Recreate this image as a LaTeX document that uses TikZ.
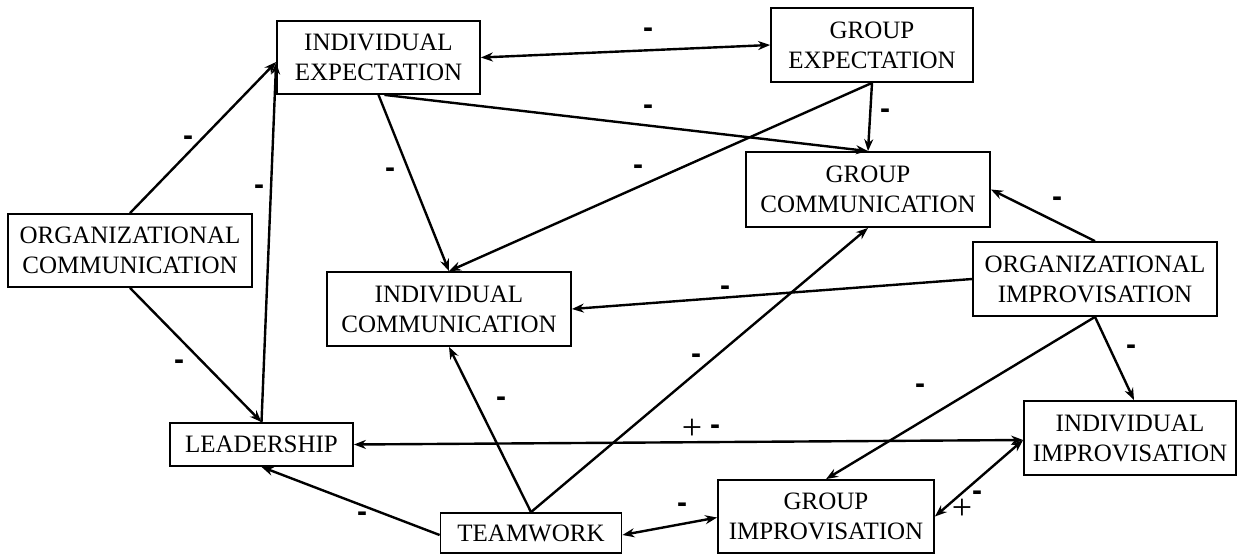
\documentclass[tikz,border=0pt]{standalone}
\usepackage{fontspec}
\setmainfont{Liberation Serif}
\newfontfamily\signfont{Liberation Sans}
\usetikzlibrary{arrows.meta,calc}
\begin{document}
\begin{tikzpicture}[x=1pt,y=-1pt,
  box/.style={draw,line width=1.8pt,rectangle,inner sep=0pt,align=center,
    font=\fontsize{25}{30}\selectfont},
  conn/.style={line width=2.4pt,-{Stealth[length=12pt,width=9pt]}},
  bconn/.style={line width=2.4pt,{Stealth[length=12pt,width=9pt]}-{Stealth[length=12pt,width=9pt]}},
  neglabel/.style={inner sep=0pt,font=\signfont\bfseries\fontsize{30}{30}\selectfont},
  poslabel/.style={inner sep=0pt,font=\fontsize{36}{36}\selectfont}]
\useasboundingbox (0,0) rectangle (1241,555);
% nodes
\node[box,minimum width=203pt,minimum height=73pt] (ie) at (378.5,57.5) {INDIVIDUAL\\EXPECTATION};
\node[box,minimum width=202pt,minimum height=74pt] (ge) at (872,45) {GROUP\\EXPECTATION};
\node[box,minimum width=244pt,minimum height=75pt] (gc) at (868,189.5) {GROUP\\COMMUNICATION};
\node[box,minimum width=244pt,minimum height=73pt] (oc) at (130,250.5) {ORGANIZATIONAL\\COMMUNICATION};
\node[box,minimum width=244pt,minimum height=74pt] (ic) at (449,309) {INDIVIDUAL\\COMMUNICATION};
\node[box,minimum width=244pt,minimum height=74pt] (oi) at (1095,279) {ORGANIZATIONAL\\IMPROVISATION};
\node[box,minimum width=212pt,minimum height=74pt] (ii) at (1130,438) {INDIVIDUAL\\IMPROVISATION};
\node[box,minimum width=183pt,minimum height=43pt] (ld) at (261.5,444.5) {LEADERSHIP};
\node[box,minimum width=181pt,minimum height=40pt] (tw) at (531,533) {TEAMWORK};
\node[box,minimum width=216pt,minimum height=73pt] (gi) at (826,516.5) {GROUP\\IMPROVISATION};
% connectors
\draw[conn] (oc.north) -- ([yshift=-4.5pt]ie.west);
\draw[conn] (ld.north) -- ([yshift=-5pt]ie.west);
\draw[conn] (oc.south) -- (ld.north);
\draw[bconn] (ie.east) -- (ge.west);
\draw[conn] ([xshift=6pt]ie.south) -- (gc.north);
\draw[conn] (ie.south) -- (ic.north);
\draw[conn] (ge.south) -- (gc.north);
\draw[conn] (ge.south) -- (ic.north);
\draw[conn] (oi.north) -- (gc.east);
\draw[conn] (oi.west) -- (ic.east);
\draw[conn] (oi.south) -- ([xshift=4pt]ii.north);
\draw[conn] (oi.south) -- (gi.north);
\draw[bconn] (ld.east) -- ([yshift=-2pt]ii.west);
\draw[conn] (tw.north) -- (ic.south);
\draw[conn] (tw.north) -- (gc.south);
\draw[conn] ([yshift=-2pt]tw.west) -- (ld.south);
\draw[bconn] ([yshift=-2pt]tw.east) -- ([yshift=-1pt]gi.west);
\draw[bconn] (gi.east) -- ([yshift=-2pt]ii.west);
% labels
\node[neglabel] (l1) at (188,141) {-};
\node[neglabel] (l2) at (259,190) {-};
\node[neglabel] (l3) at (390,173) {-};
\node[neglabel] (l4) at (648,33) {-};
\node[neglabel] (l5) at (648,110) {-};
\node[neglabel] (l6) at (885,114) {-};
\node[neglabel] (l7) at (638,170) {-};
\node[neglabel] (l8) at (1057,202) {-};
\node[neglabel] (l9) at (725,291) {-};
\node[neglabel] (l10) at (1131,350) {-};
\node[neglabel] (l11) at (920,389) {-};
\node[neglabel] (l12) at (696,359) {-};
\node[neglabel] (l13) at (501,402) {-};
\node[poslabel] (l14) at (692,429) {+};
\node[neglabel] (l15) at (715,430) {-};
\node[neglabel] (l16) at (179,365) {-};
\node[neglabel] (l17) at (362,517) {-};
\node[neglabel] (l18) at (682,508) {-};
\node[poslabel] (l19) at (962,509) {+};
\node[neglabel] (l20) at (977,496) {-};
\end{tikzpicture}
\end{document}
